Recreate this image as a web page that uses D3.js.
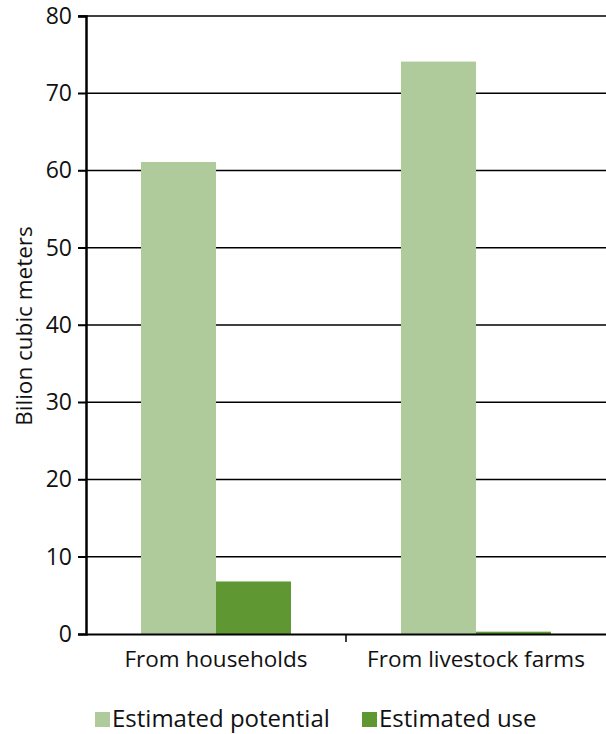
<!DOCTYPE html>
<html>
<head>
<meta charset="utf-8">
<script src="https://cdn.jsdelivr.net/npm/d3@7"></script>
<style>
  body { margin: 0; background: #fff; }
  text { font-family: "Open Sans", "Noto Sans", sans-serif; fill: #111; }
</style>
</head>
<body>
<svg id="svg1" width="606" height="734"></svg>
<script>
"use strict";

// chart data
let categories = ["From households", "From livestock farms"];
let seriesNames = ["Estimated potential", "Estimated use"];
let potential = [61.1, 74.1];
let used = [6.8, 0.3];
let yTicks = [0, 10, 20, 30, 40, 50, 60, 70, 80];

let colors = ["#afcb9b", "#5f9832"];

let svg = d3.select("#svg1");
let margin = {top: 16, right: 0, bottom: 100, left: 86};
let width = 606 - margin.left - margin.right;
let height = 734 - margin.top - margin.bottom;

let g = svg.append("g").attr("transform", `translate(${margin.left},${margin.top})`);

let x = d3.scaleBand().domain(categories).range([0, width]).paddingInner(0).paddingOuter(0);
let xSub = d3.scaleBand().domain(seriesNames).range([55, x.bandwidth() - 55]);
let y = d3.scaleLinear().domain([0, 80]).range([height, 0]);

// gridlines
g.append("g").selectAll("line").data(yTicks.filter(d => d > 0)).enter().append("line")
    .attr("x1", -8).attr("x2", width)
    .attr("y1", d => y(d)).attr("y2", d => y(d))
    .attr("stroke", "#000").attr("stroke-width", 1.5);

// bars
let rows = categories.map((c, i) => ({cat: c, values: [potential[i], used[i]]}));
g.selectAll(".bar").data(rows).enter().append("g")
    .attr("transform", d => `translate(${x(d.cat)},0)`)
    .selectAll("rect").data(d => d.values.map((v, j) => ({key: seriesNames[j], value: v, j: j})))
    .enter().append("rect")
    .attr("x", d => xSub(d.key))
    .attr("y", d => y(d.value))
    .attr("width", xSub.bandwidth())
    .attr("height", d => height - y(d.value))
    .attr("fill", d => colors[d.j]);

// y axis
let yAxis = g.append("g").call(d3.axisLeft(y).tickValues(yTicks).tickSize(8).tickPadding(6));
yAxis.select(".domain").attr("stroke", "#000").attr("stroke-width", 2.5);
yAxis.selectAll(".tick line").attr("stroke", "#000").attr("stroke-width", 1.5);
yAxis.selectAll(".tick text").style("font-size", "23px").attr("fill", "#111");

// x axis
let xAxis = g.append("g").attr("transform", `translate(0,${height})`)
    .call(d3.axisBottom(x).tickSize(0).tickPadding(17));
xAxis.select(".domain").attr("stroke", "#000").attr("stroke-width", 2);
xAxis.selectAll(".tick text").style("font-size", "22.5px").attr("fill", "#111");
// separators between categories
xAxis.append("g").selectAll("line").data(categories.slice(1)).enter().append("line")
    .attr("x1", d => x(d)).attr("x2", d => x(d))
    .attr("y1", 0).attr("y2", 8)
    .attr("stroke", "#000").attr("stroke-width", 1.5);

// y label
svg.append("text")
    .attr("transform", "translate(32,326) rotate(-90)")
    .attr("text-anchor", "middle")
    .style("font-size", "22.5px")
    .text("Bilion cubic meters");

// legend
let legX = [95, 362];
let legend = svg.selectAll(".legend").data(seriesNames).enter().append("g")
    .attr("transform", (d, i) => `translate(${legX[i]},712)`);
legend.append("rect").attr("width", 15).attr("height", 15).attr("fill", (d, i) => colors[i]);
legend.append("text").attr("x", 17).attr("y", 15).style("font-size", "24px").text(d => d);
</script>
</body>
</html>
